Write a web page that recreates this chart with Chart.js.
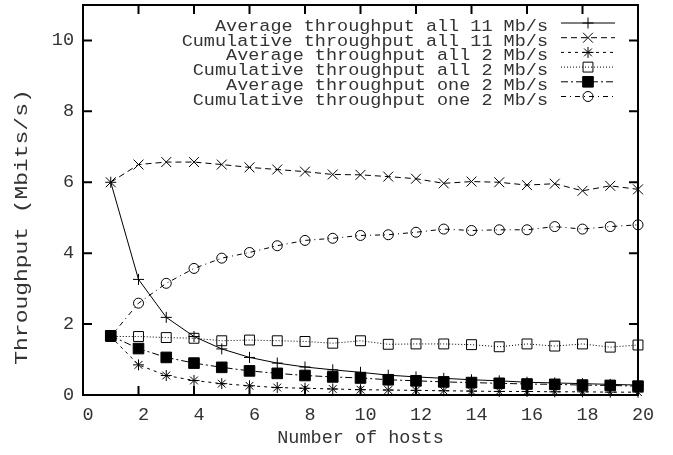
<!DOCTYPE html>
<html>
<head>
<meta charset="utf-8">
<title>Throughput vs number of hosts</title>
<script src="https://cdn.jsdelivr.net/npm/chart.js@4.4.0/dist/chart.umd.min.js"></script>
<style>
  html, body { margin: 0; padding: 0; background: #fff; }
  #wrap { width: 673px; height: 455px; }
</style>
</head>
<body>
<div id="wrap"><canvas id="myChart" width="673" height="455"></canvas></div>
<script>
// Values
const hosts = [1, 2, 3, 4, 5, 6, 7, 8, 9, 10, 11, 12, 13, 14, 15, 16, 17, 18, 19, 20];

const avgAll11 = [6.0, 3.26, 2.19, 1.65, 1.3, 1.06, 0.9, 0.79, 0.71, 0.64, 0.56, 0.51, 0.47, 0.43, 0.4, 0.36, 0.34, 0.32, 0.3, 0.28];
const cumAll11 = [6.0, 6.5, 6.57, 6.57, 6.5, 6.42, 6.36, 6.3, 6.22, 6.21, 6.16, 6.1, 5.97, 6.02, 6.0, 5.92, 5.96, 5.76, 5.9, 5.8];
const avgAll2 = [1.65, 0.85, 0.55, 0.41, 0.32, 0.26, 0.21, 0.19, 0.17, 0.15, 0.14, 0.13, 0.12, 0.11, 0.1, 0.1, 0.09, 0.09, 0.08, 0.08];
const cumAll2 = [1.65, 1.65, 1.62, 1.6, 1.53, 1.55, 1.53, 1.51, 1.46, 1.53, 1.43, 1.44, 1.44, 1.42, 1.36, 1.44, 1.38, 1.44, 1.35, 1.41];
const avgOne2 = [1.67, 1.31, 1.06, 0.9, 0.78, 0.68, 0.61, 0.55, 0.51, 0.48, 0.43, 0.4, 0.37, 0.35, 0.33, 0.31, 0.3, 0.28, 0.27, 0.25];
const cumOne2 = [1.65, 2.59, 3.15, 3.57, 3.86, 4.02, 4.21, 4.36, 4.42, 4.5, 4.52, 4.59, 4.68, 4.64, 4.66, 4.66, 4.75, 4.68, 4.75, 4.8];

const seriesLabels = [
    'Average throughput all 11 Mb/s',
    'Cumulative throughput all 11 Mb/s',
    'Average throughput all 2 Mb/s',
    'Cumulative throughput all 2 Mb/s',
    'Average throughput one 2 Mb/s',
    'Cumulative throughput one 2 Mb/s'
];

const xTitle = 'Number of hosts';
const yTitle = 'Throughput (Mbits/s)';

const monoFont = '"Liberation Mono", "DejaVu Sans Mono", monospace';
const textColor = '#333';

function toPoints(values) {
    return hosts.map((h, i) => ({ x: h, y: values[i] }));
}

function makeDataset(label, values, dash, pointStyle, radius, fill) {
    return {
        label: label,
        data: toPoints(values),
        borderColor: '#000',
        borderWidth: 1,
        borderDash: dash,
        pointStyle: pointStyle,
        pointRadius: radius,
        pointHoverRadius: radius,
        pointBorderWidth: 1,
        pointBorderColor: '#000',
        pointBackgroundColor: fill,
        tension: 0,
        clip: false
    };
}

// gnuplot-like frame: border, inward ticks on all sides, legend and y title
const gnuplotFrame = {
    id: 'gnuplotFrame',
    afterDatasetsDraw(chart) {
        const { ctx, chartArea: a, scales: { x, y } } = chart;
        const tick = 9;
        ctx.save();
        ctx.strokeStyle = '#000';
        ctx.lineWidth = 2;
        ctx.setLineDash([]);
        ctx.beginPath();
        x.ticks.forEach(t => {
            const px = x.getPixelForValue(t.value);
            ctx.moveTo(px, a.bottom);
            ctx.lineTo(px, a.bottom - tick);
            ctx.moveTo(px, a.top);
            ctx.lineTo(px, a.top + tick);
        });
        y.ticks.forEach(t => {
            const py = y.getPixelForValue(t.value);
            ctx.moveTo(a.left, py);
            ctx.lineTo(a.left + tick, py);
            ctx.moveTo(a.right, py);
            ctx.lineTo(a.right - tick, py);
        });
        ctx.stroke();
        ctx.strokeRect(a.left, a.top, a.right - a.left, a.bottom - a.top);

        // legend, top right inside the plot
        const textRight = 548;
        const sampleLeft = 561;
        const sampleRight = 615;
        const rowTop = 23;
        const rowStep = 14.7;
        ctx.font = '18.5px ' + monoFont;
        ctx.textAlign = 'right';
        ctx.textBaseline = 'alphabetic';
        chart.data.datasets.forEach((ds, i) => {
            const ry = rowTop + i * rowStep;
            ctx.save();
            ctx.translate(textRight, ry + 8);
            ctx.scale(1, 0.9);
            ctx.fillStyle = textColor;
            ctx.fillText(ds.label, 0, 0);
            ctx.restore();
            ctx.lineWidth = 1;
            ctx.strokeStyle = '#000';
            ctx.setLineDash(ds.borderDash || []);
            ctx.beginPath();
            ctx.moveTo(sampleLeft, ry);
            ctx.lineTo(sampleRight, ry);
            ctx.stroke();
            ctx.setLineDash([]);
            ctx.fillStyle = ds.pointBackgroundColor;
            Chart.helpers.drawPoint(ctx, {
                pointStyle: ds.pointStyle,
                radius: ds.pointRadius,
                borderWidth: 1,
                rotation: 0
            }, (sampleLeft + sampleRight) / 2, ry);
        });

        // rotated y axis title, stretched along its length like the reference
        ctx.fillStyle = textColor;
        ctx.translate(22.5, 227);
        ctx.rotate(-Math.PI / 2);
        ctx.scale(1.24, 1);
        ctx.textAlign = 'center';
        ctx.textBaseline = 'middle';
        ctx.fillText(yTitle, 0, 0);
        ctx.restore();
    }
};

const canvas = document.getElementById('myChart');
const ctx = canvas.getContext('2d');

const myChart = new Chart(ctx, {
    type: 'line',
    data: {
        datasets: [
            makeDataset(seriesLabels[0], avgAll11, [], 'cross', 5.5, 'rgba(0,0,0,0)'),
            makeDataset(seriesLabels[1], cumAll11, [6, 4], 'crossRot', 7, 'rgba(0,0,0,0)'),
            makeDataset(seriesLabels[2], avgAll2, [3, 4], 'star', 5.5, 'rgba(0,0,0,0)'),
            makeDataset(seriesLabels[3], cumAll2, [1, 2], 'rect', 7, 'rgba(0,0,0,0)'),
            makeDataset(seriesLabels[4], avgOne2, [7, 3, 2, 3], 'rect', 7.5, '#000'),
            makeDataset(seriesLabels[5], cumOne2, [5, 4, 1, 4], 'circle', 5, 'rgba(0,0,0,0)')
        ]
    },
    options: {
        responsive: false,
        maintainAspectRatio: false,
        animation: false,
        layout: {
            autoPadding: false, // no extra room for point radii
            padding: { left: 0, right: 35, top: 5, bottom: 0 }
        },
        plugins: {
            legend: { display: false },
            tooltip: { enabled: false }
        },
        scales: {
            x: {
                type: 'linear',
                min: 0,
                max: 20,
                grid: { display: false, drawTicks: false },
                border: { display: false },
                ticks: {
                    stepSize: 2,
                    padding: 9,
                    labelOffset: 5,
                    color: textColor,
                    maxRotation: 0,
                    font: { family: monoFont, size: 18.5 }
                },
                title: {
                    display: true,
                    text: xTitle,
                    color: textColor,
                    padding: { top: 0, bottom: 6 },
                    font: { family: monoFont, size: 18.5 }
                },
                afterFit: scale => {
                    scale.height = 60;
                    scale.paddingLeft = 0;
                    scale.paddingRight = 0;
                }
            },
            y: {
                type: 'linear',
                min: 0,
                max: 11,
                grid: { display: false, drawTicks: false },
                border: { display: false },
                ticks: {
                    stepSize: 2,
                    includeBounds: false,
                    padding: 9,
                    color: textColor,
                    font: { family: monoFont, size: 18.5 }
                },
                afterFit: scale => {
                    scale.width = 83;
                    scale.paddingTop = 0;
                    scale.paddingBottom = 0;
                }
            }
        }
    },
    plugins: [gnuplotFrame]
});
</script>
</body>
</html>
